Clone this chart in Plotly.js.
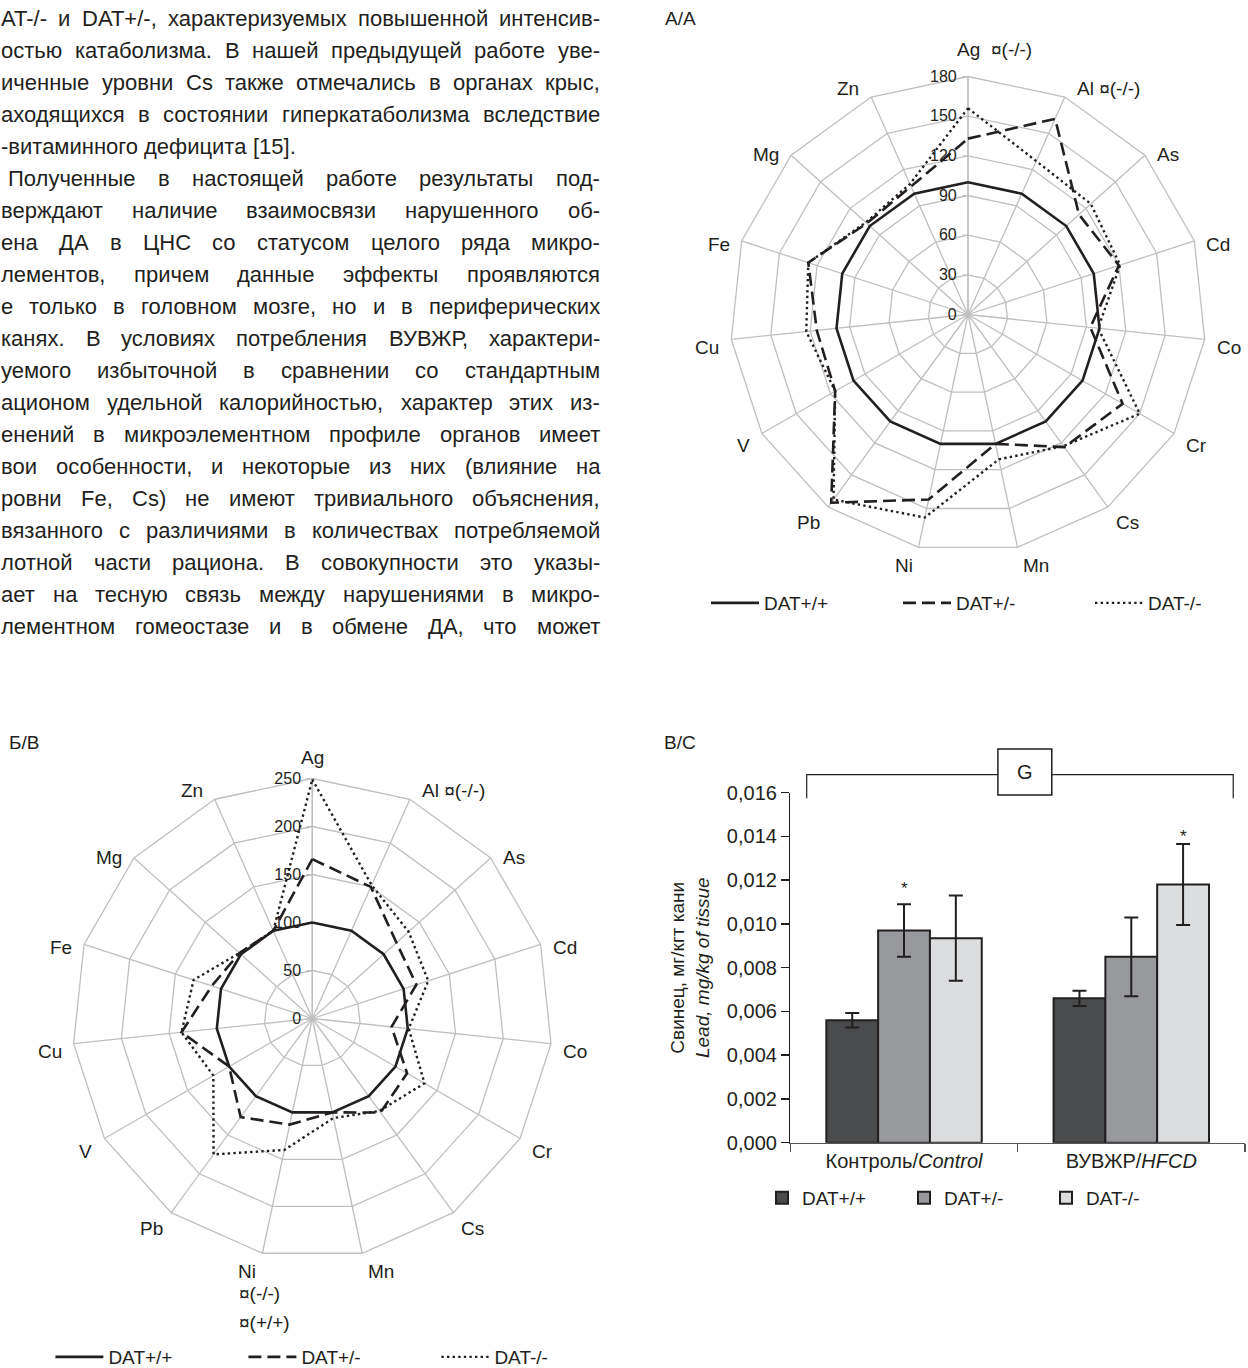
<!DOCTYPE html>
<html><head><meta charset="utf-8">
<script src="https://cdn.plot.ly/plotly-3.0.1.min.js"></script>
<style>html,body{margin:0;padding:0;background:#fff;}#chart{width:1248px;height:1368px;}</style>
</head><body><div id="chart"></div>
<script>
// ---------------- DATA ----------------
const elements = ['Ag','Al','As','Cd','Co','Cr','Cs','Mn','Ni','Pb','V','Cu','Fe','Mg','Zn'];
const labelsA  = ['Ag','Al ¤(-/-)','As','Cd','Co','Cr','Cs','Mn','Ni','Pb','V','Cu','Fe','Mg','Zn'];
const labelsB  = ['Ag','Al ¤(-/-)','As','Cd','Co','Cr','Cs','Mn','Ni','Pb','V','Cu','Fe','Mg','Zn'];
const seriesNames = ['DAT+/+','DAT+/-','DAT-/-'];

// Panel A/A (% of DAT+/+)
const aWT  = [100,100,100,100,100,100,100,100,100,100,100,100,100,100,100];
const aHET = [133,162,113,120, 93,135,124,100,143,176,116,115,127,103,106];
const aKO  = [156,127,125,121, 99,150,123,112,157,173,116,123,127,104,108];

// Panel Б/B (% of DAT+/+)
const bWT  = [100,100,100,100,100,100,100,100,100,100,100,100,100,100,100];
const bHET = [166,150,118,114, 83,114,121,100,113,127,100,137,110,102,100];
const bKO  = [249,152,135,127,101,135,119,106,140,175,119,137,130,102,100];

// Panel В/C lead, mg/kg
const groups  = ['Контроль/<i>Control</i>','ВУВЖР/<i>HFCD</i>'];
const leadWT  = [0.0056, 0.0066];   const errWT  = [0.00033, 0.00035];
const leadHET = [0.0097, 0.0085];   const errHET = [0.0012, 0.0018];
const leadKO  = [0.00935, 0.0118];  const errKO  = [0.00195, 0.00185];
const sigGroup = [0, 1];            // group index of the "*" marks
const sigSeries = [1, 2];           // series index of the "*" marks
const sigY = [0.01162, 0.0140];

// Body text lines
const bodyLines = [
 'AT-/- и DAT+/-, характеризуемых повышенной интенсив-',
 'остью катаболизма. В нашей предыдущей работе уве-',
 'иченные уровни Cs также отмечались в органах крыс,',
 'аходящихся в состоянии гиперкатаболизма вследствие',
 '-витаминного дефицита [15].',
 'Полученные в настоящей работе результаты под-',
 'верждают наличие взаимосвязи нарушенного об-',
 'ена ДА в ЦНС со статусом целого ряда микро-',
 'лементов, причем данные эффекты проявляются',
 'е только в головном мозге, но и в периферических',
 'канях. В условиях потребления ВУВЖР, характери-',
 'уемого избыточной в сравнении со стандартным',
 'ационом удельной калорийностью, характер этих из-',
 'енений в микроэлементном профиле органов имеет',
 'вои особенности, и некоторые из них (влияние на',
 'ровни Fe, Cs) не имеют тривиального объяснения,',
 'вязанного с различиями в количествах потребляемой',
 'лотной части рациона. В совокупности это указы-',
 'ает на тесную связь между нарушениями в микро-',
 'лементном гомеостазе и в обмене ДА, что может'
];
const bodyJustified = bodyLines.map((_, i) => i !== 4);
const bodyIndent = bodyLines.map((_, i) => i === 5 ? 8 : 1);

// ---------------- HELPERS ----------------
const W = 1248, H = 1368;
const px = x => x / W, py = y => 1 - y / H;
const ink = '#231f20', grid = '#bfbfbf';
const FF = '"Liberation Sans", Arial, sans-serif';

const cvs = document.createElement('canvas').getContext('2d');
function textW(t, size) { cvs.font = size + 'px "Liberation Sans"'; return cvs.measureText(t).width; }

const annotations = [];
// justified body text, word by word
const bodyRight = 600;
const bodySize = Math.min(22, Math.max(19, 599 / (textW(bodyLines[16], 100) / 100)));
bodyLines.forEach((line, i) => {
  const words = line.split(' ');
  const widths = words.map(w => textW(w, bodySize));
  const sum = widths.reduce((a, b) => a + b, 0);
  const left = bodyIndent[i];
  const gap = (bodyJustified[i] && words.length > 1) ? (bodyRight - left - sum) / (words.length - 1) : textW(' ', bodySize);
  let x = left;
  const yc = 19 + 31.95 * i;
  words.forEach((w, j) => {
    annotations.push({text: w, x: px(x), y: py(yc), xref: 'paper', yref: 'paper', xanchor: 'left', yanchor: 'middle',
      showarrow: false, borderpad: 0, borderwidth: 0, font: {family: FF, size: bodySize, color: ink}});
    x += widths[j] + gap;
  });
});

function lab(text, x, y, size, xanchor) {
  annotations.push({text, x: px(x), y: py(y), xref: 'paper', yref: 'paper', xanchor: xanchor || 'left', yanchor: 'middle',
    showarrow: false, borderpad: 0, borderwidth: 0, align: 'left', font: {family: FF, size, color: ink}});
}

// radar geometry (shared by polar domains and category labels)
const radarA = {cx: 968, cy: 314.5, R: 238};
const radarB = {cx: 312.3, cy: 1018.5, R: 240};

function radarLabels(g, labels, topGap) {
  labels.forEach((t, i) => {
    const th = (90 - 360 / labels.length * i) * Math.PI / 180;
    const c = Math.cos(th), s = Math.sin(th);
    const vx = g.cx + g.R * c, vy = g.cy - g.R * s;
    if (Math.abs(c) < 0.1) { lab(t, vx, vy - topGap, 19, 'center'); return; }
    const gap = s < -0.9 ? 6 : (s < -0.7 ? 8 : 12);
    const y = s > 0.85 ? vy - 8.5 : vy + 7 - 11 * s;
    lab(t, vx + Math.sign(c) * gap, y, 19, c > 0 ? 'left' : 'right');
  });
}
radarLabels(radarA, labelsA, 27.5);
radarLabels(radarB, labelsB, 21.5);

lab('А/A', 665, 19, 19);
lab('Б/B', 9, 742, 19);
lab('В/C', 664, 742, 19);
lab('¤(-/-)', 991, 49, 19);
lab('¤(-/-)', 239, 1293, 19);
lab('¤(+/+)', 239, 1322, 19);
lab('G', 1025, 772, 20, 'center');

// significance marks
const barW = (1 - 0.316) / 3;
sigGroup.forEach((g, i) => {
  annotations.push({text: '*', x: g + (sigSeries[i] - 1) * barW, y: sigY[i], xref: 'x', yref: 'y',
    showarrow: false, xanchor: 'center', yanchor: 'middle', font: {family: FF, size: 17, color: ink}});
});

// ---------------- TRACES ----------------
const lineStyles = [
  {color: ink, width: 2.6},
  {color: ink, width: 2.6, dash: '13px,6px'},
  {color: ink, width: 2.4, dash: '2.4px,3.2px'}
];
const close = arr => arr.concat([arr[0]]);
const traces = [];
[[aWT, aHET, aKO], [bWT, bHET, bKO]].forEach((set, p) => {
  set.forEach((vals, s) => {
    traces.push({type: 'scatterpolar', mode: 'lines', r: close(vals), theta: close(elements),
      subplot: p === 0 ? 'polar' : 'polar2', legend: p === 0 ? 'legend' : 'legend2',
      name: seriesNames[s], line: lineStyles[s], hoverinfo: 'skip'});
  });
});
const barColors = ['#4a4b4d', '#98999c', '#dcdddf'];
[[leadWT, errWT], [leadHET, errHET], [leadKO, errKO]].forEach(([vals, errs], s) => {
  traces.push({type: 'bar', x: groups, y: vals, name: seriesNames[s], legend: 'legend3',
    marker: {color: barColors[s], line: {color: ink, width: 2}},
    error_y: {type: 'data', array: errs, visible: true, color: ink, thickness: 2, width: 7},
    xaxis: 'x', yaxis: 'y', hoverinfo: 'skip'});
});

// ---------------- LAYOUT ----------------
function polar(g, range, dtick) {
  return {
    domain: {x: [px(g.cx - g.R), px(g.cx + g.R)], y: [py(g.cy + g.R), py(g.cy - g.R)]},
    bgcolor: 'rgba(0,0,0,0)', gridshape: 'linear',
    radialaxis: {range, dtick, tick0: 0, angle: 90, showline: true, linecolor: grid, linewidth: 1.3,
      gridcolor: grid, gridwidth: 1.3, ticks: 'outside', ticklen: 5, tickcolor: grid,
      side: 'counterclockwise', tickangle: 90, layer: 'below traces',
      tickfont: {family: FF, size: 16, color: ink}},
    angularaxis: {type: 'category', categoryarray: elements, direction: 'clockwise', rotation: 90,
      showticklabels: false, ticks: '',
      showline: true, linecolor: grid, linewidth: 1.3, gridcolor: grid, gridwidth: 1.3, layer: 'below traces'}
  };
}

const shapes = [
  {type: 'path', xref: 'paper', yref: 'paper',
   path: `M${px(806.7)},${py(798.3)} L${px(806.7)},${py(774.7)} L${px(1233.2)},${py(774.7)} L${px(1233.2)},${py(798.3)}`,
   line: {color: ink, width: 1.2}},
  {type: 'rect', xref: 'paper', yref: 'paper', x0: px(997.9), x1: px(1051.8), y0: py(795), y1: py(749),
   fillcolor: '#fff', line: {color: ink, width: 1.5}}
];

function legendAt(x, y, ew, iw, size) {
  return {orientation: 'h', x: px(x), xanchor: 'left', y: py(y), yanchor: 'middle',
    entrywidth: ew, entrywidthmode: 'pixels', itemwidth: iw, bgcolor: 'rgba(0,0,0,0)', traceorder: 'normal',
    font: {family: FF, size, color: ink}};
}

const layout = {
  width: W, height: H, margin: {l: 0, r: 0, t: 0, b: 0, pad: 0, autoexpand: false},
  paper_bgcolor: '#fff', plot_bgcolor: 'rgba(0,0,0,0)',
  font: {family: FF, color: ink}, separators: ', ',
  showlegend: true,
  polar: polar(radarA, [0, 180], 30),
  polar2: polar(radarB, [0, 250], 50),
  xaxis: {domain: [px(790.4), px(1244.9)], anchor: 'y', range: [-0.5, 1.5], tickson: 'boundaries',
    ticks: 'outside', ticklen: 8, tickcolor: '#555', tickwidth: 1.5, showline: true, linecolor: '#555', linewidth: 1.5,
    showgrid: false, zeroline: false, tickfont: {family: FF, size: 20, color: ink}, fixedrange: true, automargin: false},
  yaxis: {domain: [py(1142.7), py(792.7)], anchor: 'x', range: [0, 0.016], dtick: 0.002, tick0: 0,
    tickformat: '.3f', ticks: 'outside', ticklen: 8, tickcolor: ink, tickwidth: 1.5,
    showline: true, linecolor: ink, linewidth: 1.5, showgrid: false, zeroline: false,
    tickfont: {family: FF, size: 20, color: ink}, automargin: false,
    title: {text: 'Свинец, мг/кгт кани<br><i>Lead, mg/kg of tissue</i>', standoff: 12,
      font: {family: FF, size: 19, color: ink}}, fixedrange: true},
  barmode: 'group', bargap: 0.316, bargroupgap: 0,
  legend: legendAt(706, 603, 129, 48, 19),
  legend2: legendAt(50.4, 1357, 130, 48, 19),
  legend3: legendAt(762, 1198, 97, 30, 19),
  shapes, annotations
};

Plotly.newPlot('chart', traces, layout, {staticPlot: true, displayModeBar: false});
</script></body></html>
